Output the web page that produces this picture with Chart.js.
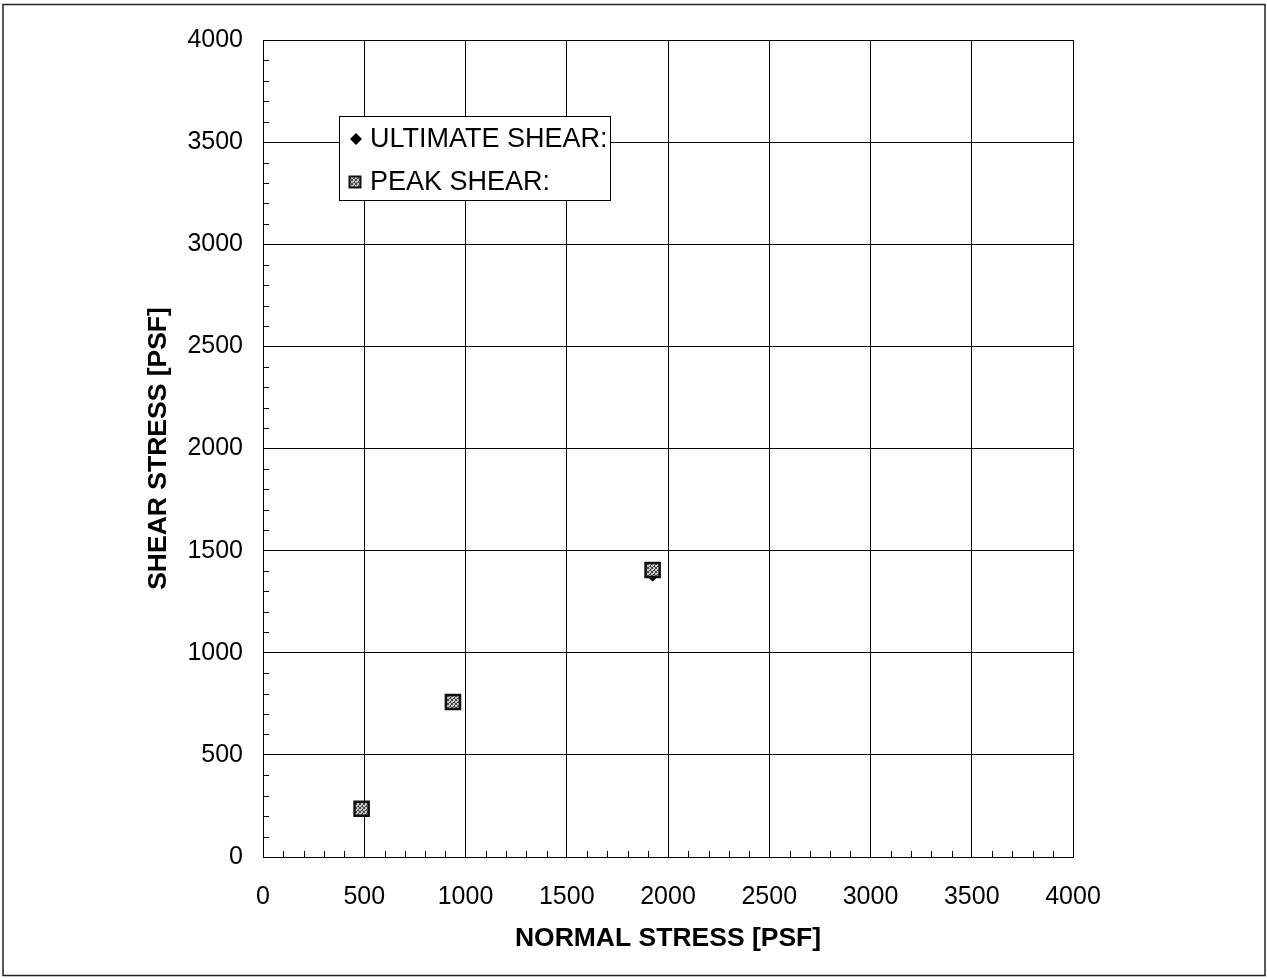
<!DOCTYPE html>
<html>
<head>
<meta charset="utf-8">
<title>Direct Shear Test</title>
<script src="https://cdn.jsdelivr.net/npm/chart.js@4.4.1/dist/chart.umd.min.js"></script>
<style>
  html, body { margin: 0; padding: 0; background: #fff; }
  #wrap { position: relative; width: 1267px; height: 979px; }
</style>
</head>
<body>
<div id="wrap"><canvas id="c" width="1267" height="979"></canvas></div>
<script>
// Normal stress [psf] and shear stress [psf] per specimen
const normalStress = [487, 938, 1924];
const ultimateShear = [236, 755, 1380];
const peakShear = [236, 759, 1405];

const seriesLabels = ['ULTIMATE SHEAR:', 'PEAK SHEAR:'];
const axisMin = 0;
const axisMax = 4000;
const majorStep = 500;
const minorStep = 100;
const xTitle = 'NORMAL STRESS [PSF]';
const yTitle = 'SHEAR STRESS [PSF]';

const FONT = "'Liberation Sans', Arial, Helvetica, sans-serif";

// stippled grey fill used by the peak-shear squares
function stipple() {
  const p = document.createElement('canvas');
  p.width = 4; p.height = 4;
  const g = p.getContext('2d');
  g.fillStyle = '#c8c8c8';
  g.fillRect(0, 0, 4, 4);
  g.fillStyle = '#444';
  g.fillRect(0, 0, 1, 1); g.fillRect(2, 1, 1, 1);
  g.fillRect(1, 2, 1, 1); g.fillRect(3, 3, 1, 1);
  g.fillRect(3, 0, 1, 1); g.fillRect(0, 3, 1, 1);
  g.fillRect(2, 2, 1, 1);
  return g.createPattern(p, 'repeat');
}
const peakFill = stipple();

function drawMarker(ctx, style, x, y, r, fill) {
  ctx.save();
  ctx.beginPath();
  if (style === 'rectRot') {
    ctx.moveTo(x, y - r); ctx.lineTo(x + r, y); ctx.lineTo(x, y + r); ctx.lineTo(x - r, y);
    ctx.closePath();
    ctx.fillStyle = '#000';
    ctx.fill();
  } else {
    ctx.rect(x - r, y - r, 2 * r, 2 * r);
    ctx.fillStyle = fill;
    ctx.fill();
    ctx.lineWidth = 2;
    ctx.strokeStyle = '#111';
    ctx.stroke();
  }
  ctx.restore();
}

// minor tick marks along both axes, drawn inside the plot area
const minorTicks = {
  id: 'minorTicks',
  afterDraw(chart) {
    const { ctx, chartArea: a, scales: { x, y } } = chart;
    ctx.save();
    ctx.strokeStyle = '#000';
    ctx.lineWidth = 1;
    ctx.beginPath();
    for (let v = axisMin; v <= axisMax; v += minorStep) {
      if (v % majorStep === 0) continue;
      const px = Math.round(x.getPixelForValue(v)) + 0.5;
      ctx.moveTo(px, a.bottom);
      ctx.lineTo(px, a.bottom - 6);
      const py = Math.round(y.getPixelForValue(v)) + 0.5;
      ctx.moveTo(a.left, py);
      ctx.lineTo(a.left + 6, py);
    }
    ctx.stroke();
    ctx.restore();
  }
};

// boxed legend sitting inside the plot area
const boxLegend = {
  id: 'boxLegend',
  afterDraw(chart) {
    const { ctx, chartArea: a } = chart;
    const left = a.left + 76, top = a.top + 76, w = 271, h = 84;
    ctx.save();
    ctx.fillStyle = '#fff';
    ctx.fillRect(left, top, w, h);
    ctx.strokeStyle = '#000';
    ctx.lineWidth = 1;
    ctx.strokeRect(left + 0.5, top + 0.5, w, h);
    ctx.font = '27px ' + FONT;
    ctx.fillStyle = '#000';
    ctx.textBaseline = 'middle';
    chart.data.datasets.forEach((ds, i) => {
      const cy = top + 23 + i * 43;
      if (ds.pointStyle === 'rectRot') drawMarker(ctx, 'rectRot', left + 17, cy, 6);
      else drawMarker(ctx, 'rect', left + 16, cy, 5.5, peakFill);
      ctx.fillText(ds.label, left + 31, cy + 1);
    });
    ctx.restore();
  }
};

// thin frame round the whole figure
const frame = {
  id: 'frame',
  beforeDraw(chart) {
    const ctx = chart.ctx;
    ctx.save();
    ctx.fillStyle = '#fff';
    ctx.fillRect(0, 0, chart.width, chart.height);
    ctx.strokeStyle = '#222';
    ctx.lineWidth = 1.5;
    ctx.strokeRect(3, 4.5, 1262, 971);
    ctx.restore();
  }
};

const toPoints = (xs, ys) => xs.map((v, i) => ({ x: v, y: ys[i] }));
const plainNumber = v => String(v);

new Chart(document.getElementById('c'), {
  type: 'scatter',
  data: {
    datasets: [
      {
        label: seriesLabels[0],
        data: toPoints(normalStress, ultimateShear),
        pointStyle: 'rectRot',
        pointRadius: 6,
        backgroundColor: '#000',
        borderColor: '#000',
        borderWidth: 1,
        order: 2
      },
      {
        label: seriesLabels[1],
        data: toPoints(normalStress, peakShear),
        pointStyle: 'rect',
        pointRadius: 10,
        backgroundColor: peakFill,
        borderColor: '#111',
        borderWidth: 2.5,
        order: 1
      }
    ]
  },
  options: {
    responsive: false,
    devicePixelRatio: 1,
    animation: false,
    layout: { padding: { left: 0, top: 40, right: 194, bottom: 0 } },
    plugins: {
      legend: { display: false },
      tooltip: { enabled: false }
    },
    scales: {
      x: {
        type: 'linear',
        min: axisMin, max: axisMax,
        afterFit: s => { s.height = 122; },
        ticks: { stepSize: majorStep, color: '#000', padding: 25, maxRotation: 0,
                 callback: plainNumber,
                 font: { family: FONT, size: 25 } },
        grid: { color: '#000', lineWidth: 1, drawTicks: false },
        border: { color: '#000', width: 1 },
        title: { display: true, text: xTitle, color: '#000',
                 font: { family: FONT, size: 26.5, weight: 'bold' },
                 padding: { top: 0, bottom: 24 } }
      },
      y: {
        type: 'linear',
        min: axisMin, max: axisMax,
        afterFit: s => { s.width = 263; },
        ticks: { stepSize: majorStep, color: '#000', padding: 20,
                 callback: plainNumber,
                 font: { family: FONT, size: 25 } },
        grid: { color: '#000', lineWidth: 1, drawTicks: false },
        border: { color: '#000', width: 1 },
        title: { display: true, text: yTitle, color: '#000',
                 font: { family: FONT, size: 26.5, weight: 'bold' },
                 padding: { top: 143, bottom: 0 } }
      }
    }
  },
  plugins: [frame, minorTicks, boxLegend]
});
</script>
</body>
</html>
